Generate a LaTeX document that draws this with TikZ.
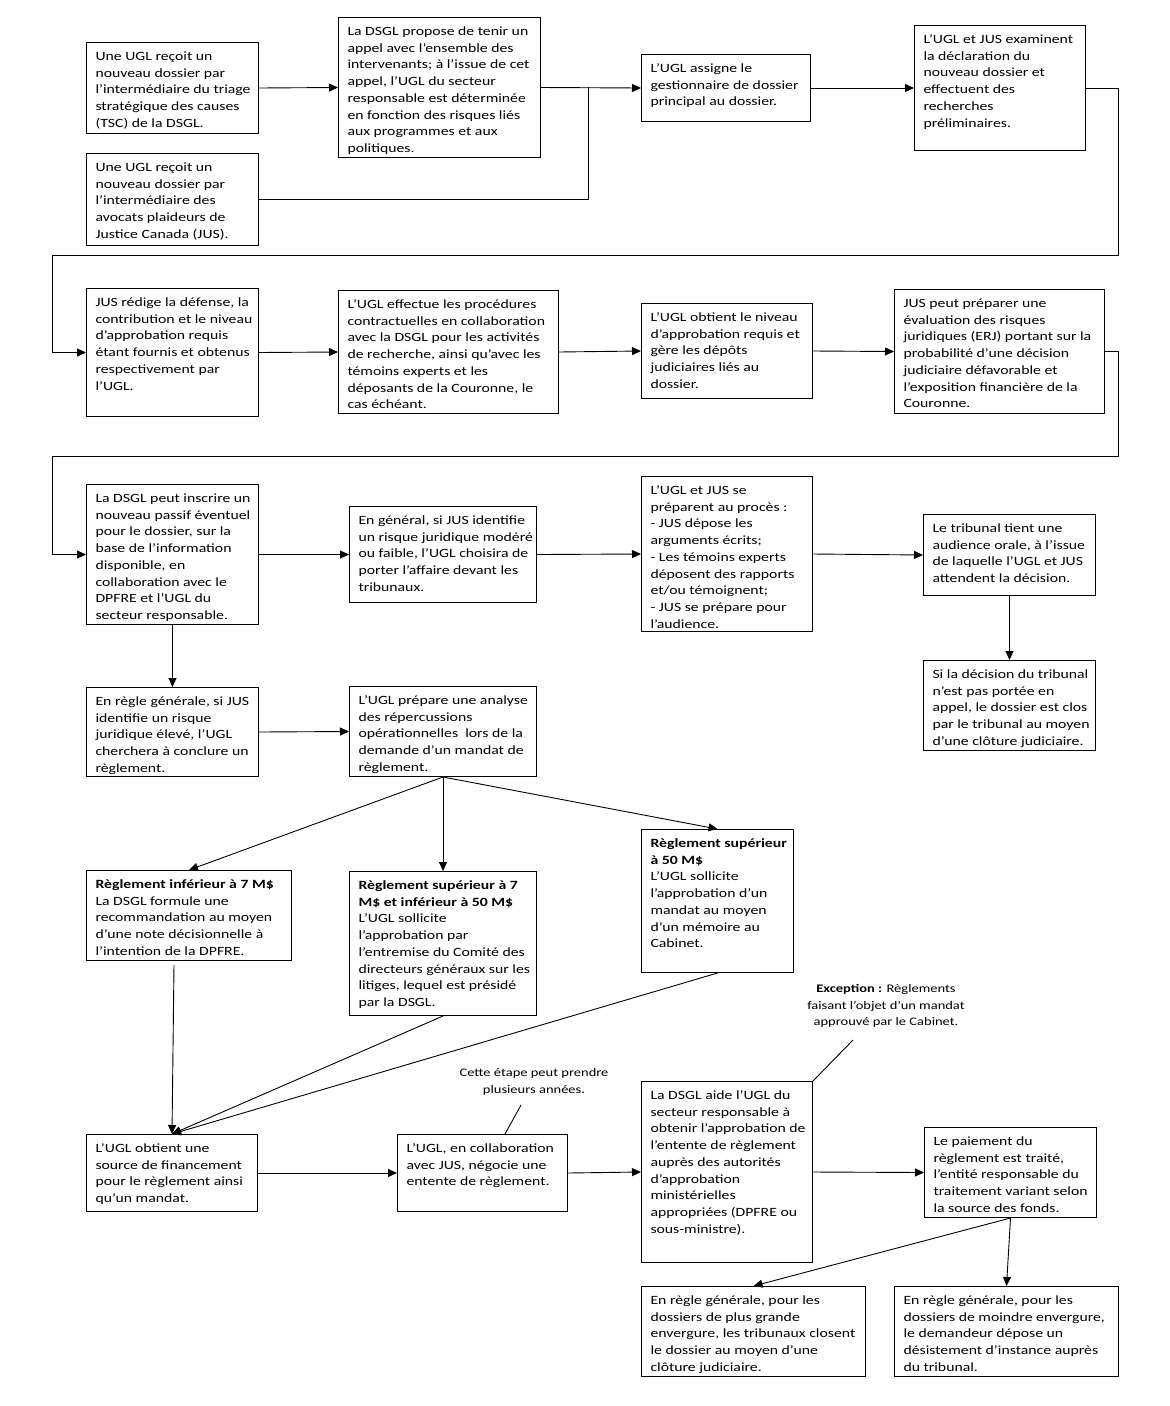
\documentclass[tikz,border=0pt]{standalone}
\usepackage{fontspec}
\setmainfont{Carlito}[FakeStretch=1.25]
\usetikzlibrary{arrows.meta}
\tikzset{
  box/.style={draw=black, line width=1pt, inner sep=0pt, anchor=north west,
    font=\fontsize{12.6pt}{16.7pt}\selectfont},
  conn/.style={draw=black, line width=0.9pt},
  arr/.style={conn, -{Triangle[length=9pt,width=8pt]}},
  note/.style={align=center, inner sep=0pt, font=\fontsize{11.6pt}{16.5pt}\selectfont},
}
\newcommand\bx[7][18]{\node[box] (#2) at (#3,#4) {\parbox[t][#6pt][t]{#5pt}{\raggedright\leftskip=9pt\rule{0pt}{#1pt}#7}};}
\begin{document}
\begin{tikzpicture}[x=1pt,y=-1pt]
\useasboundingbox (0,0) rectangle (1170,1406);
% row 1
\bx{A1}{86}{42}{172}{91}{Une UGL reçoit un\\nouveau dossier par\\l’intermédiaire du triage\\stratégique des causes\\(TSC) de la DSGL.}
\bx{A2}{86}{153}{172}{92}{Une UGL reçoit un\\nouveau dossier par\\l’intermédiaire des\\avocats plaideurs de\\Justice Canada (JUS).}
\bx{B}{338}{17}{202}{140}{La DSGL propose de tenir un\\appel avec l’ensemble des\\intervenants; à l’issue de cet\\appel, l’UGL du secteur\\responsable est déterminée\\en fonction des risques liés\\aux programmes et aux\\politiques.}
\bx{C}{641}{54}{169}{67}{L’UGL assigne le\\gestionnaire de dossier\\principal au dossier.}
\bx{D}{914}{25}{171}{125}{L’UGL et JUS examinent\\la déclaration du\\nouveau dossier et\\effectuent des\\recherches\\préliminaires.}
% row 2
\bx{E}{86}{288}{172}{128}{JUS rédige la défense, la\\contribution et le niveau\\d’approbation requis\\étant fournis et obtenus\\respectivement par\\l'UGL.}
\bx{F}{338}{290}{220}{123}{L’UGL effectue les procédures\\contractuelles en collaboration\\avec la DSGL pour les activités\\de recherche, ainsi qu’avec les\\témoins experts et les\\déposants de la Couronne, le\\cas échéant.}
\bx{G}{641}{303}{171}{95}{L’UGL obtient le niveau\\d’approbation requis et\\gère les dépôts\\judiciaires liés au\\dossier.}
\bx{H}{894}{289}{210}{124}{JUS peut préparer une\\évaluation des risques\\juridiques (ERJ) portant sur la\\probabilité d’une décision\\judiciaire défavorable et\\l’exposition financière de la\\Couronne.}
% row 3
\bx{I}{86}{484}{172}{140}{La DSGL peut inscrire un\\nouveau passif éventuel\\pour le dossier, sur la\\base de l’information\\disponible, en\\collaboration avec le\\DPFRE et l’UGL du\\secteur responsable.}
\bx{J}{349}{506}{187}{96}{En général, si JUS identifie\\un risque juridique modéré\\ou faible, l’UGL choisira de\\porter l'affaire devant les\\tribunaux.}
\bx{K}{641}{476}{171}{155}{L’UGL et JUS se\\préparent au procès :\\- JUS dépose les\\arguments écrits;\\- Les témoins experts\\déposent des rapports\\et/ou témoignent;\\- JUS se prépare pour\\l’audience.}
\bx{L}{923}{514}{172}{81}{Le tribunal tient une\\audience orale, à l’issue\\de laquelle l’UGL et JUS\\attendent la décision.}
\bx{M}{923}{660}{172}{90}{Si la décision du tribunal\\n’est pas portée en\\appel, le dossier est clos\\par le tribunal au moyen\\d’une clôture judiciaire.}
% row 4
\bx{N}{86}{687}{172}{89}{En règle générale, si JUS\\identifie un risque\\juridique élevé, l’UGL\\cherchera à conclure un\\règlement.}
\bx{O}{349}{686}{187}{90}{L’UGL prépare une analyse\\des répercussions\\opérationnelles\ \ lors de la\\demande d’un mandat de\\règlement.}
% row 5
\bx{P}{86}{870}{205}{90}{\textbf{Règlement inférieur à 7 M\$}\\La DSGL formule une\\recommandation au moyen\\d’une note décisionnelle à\\l’intention de la DPFRE.}
\bx{Q}{349}{871}{187}{144}{\textbf{Règlement supérieur à 7}\\\textbf{M\$ et inférieur à 50 M\$}\\L’UGL sollicite\\l’approbation par\\l’entremise du Comité des\\directeurs généraux sur les\\litiges, lequel est présidé\\par la DSGL.}
\bx{R}{641}{829}{152}{143}{\textbf{Règlement supérieur}\\\textbf{à 50 M\$}\\L’UGL sollicite\\l’approbation d’un\\mandat au moyen\\d’un mémoire au\\Cabinet.}
% row 6
\bx{S}{86}{1134}{171}{77}{L’UGL obtient une\\source de financement\\pour le règlement ainsi\\qu’un mandat.}
\bx{T}{397}{1134}{170}{77}{L’UGL, en collaboration\\avec JUS, négocie une\\entente de règlement.}
\bx{U}{641}{1081}{171}{181}{La DSGL aide l’UGL du\\secteur responsable à\\obtenir l’approbation de\\l’entente de règlement\\auprès des autorités\\d’approbation\\ministérielles\\appropriées (DPFRE ou\\sous-ministre).}
\bx{V}{924}{1127}{172}{90}{Le paiement du\\règlement est traité,\\l’entité responsable du\\traitement variant selon\\la source des fonds.}
\bx{W}{641}{1286}{224}{90}{En règle générale, pour les\\dossiers de plus grande\\envergure, les tribunaux closent\\le dossier au moyen d’une\\clôture judiciaire.}
\bx{X}{894}{1286}{224}{90}{En règle générale, pour les\\dossiers de moindre envergure,\\le demandeur dépose un\\désistement d’instance auprès\\du tribunal.}
% notes
\node[note] (n1) at (534,1082) {Cette étape peut prendre\\plusieurs années.};
\node[note] (n2) at (886,1006) {\textbf{Exception :} Règlements\\faisant l’objet d’un mandat\\approuvé par le Cabinet.};
% coordinates
\coordinate (j1) at (588,87);
\coordinate (t1) at (1118,255);
\coordinate (t2) at (52,255);
\coordinate (t3) at (1118,456);
\coordinate (t4) at (52,456);
\coordinate (pb) at (174,965);
\coordinate (n1a) at (521,1105);
\coordinate (n1b) at (505,1134);
\coordinate (n2a) at (853,1040);
% connectors
\draw[arr] (A1.east) -- (B.west);
\draw[arr] (B.east) -- (C.west);
\draw[conn] (A2.east) -| (j1);
\draw[arr] (C.east) -- (D.west);
\draw[arr] (D.east) -| (t1) -- (t2) |- (E.west);
\draw[arr] (E.east) -- (F.west);
\draw[arr] (F.east) -- (G.west);
\draw[arr] (G.east) -- (H.west);
\draw[arr] (H.east) -| (t3) -- (t4) |- (I.west);
\draw[arr] (I.east) -- (J.west);
\draw[arr] (J.east) -- (K.west);
\draw[arr] (K.east) -- (L.west);
\draw[arr] (L.south) -- (M.north);
\draw[arr] (I.south) -- (N.north);
\draw[arr] (N.east) -- (O.west);
\draw[arr] (O.south) -- (P.north);
\draw[arr] (O.south) -- (Q.north);
\draw[arr] (O.south) -- (R.north);
\draw[arr] (pb) -- (S.north);
\draw[arr] (Q.south) -- (S.north);
\draw[arr] (R.south) -- (S.north);
\draw[arr] (S.east) -- (T.west);
\draw[arr] (T.east) -- (U.west);
\draw[arr] (U.east) -- (V.west);
\draw[arr] (V.south) -- (W.north);
\draw[arr] (V.south) -- (X.north);
\draw[conn] (n1a) -- (n1b);
\draw[conn] (n2a) -- (U.north east);
\end{tikzpicture}
\end{document}
